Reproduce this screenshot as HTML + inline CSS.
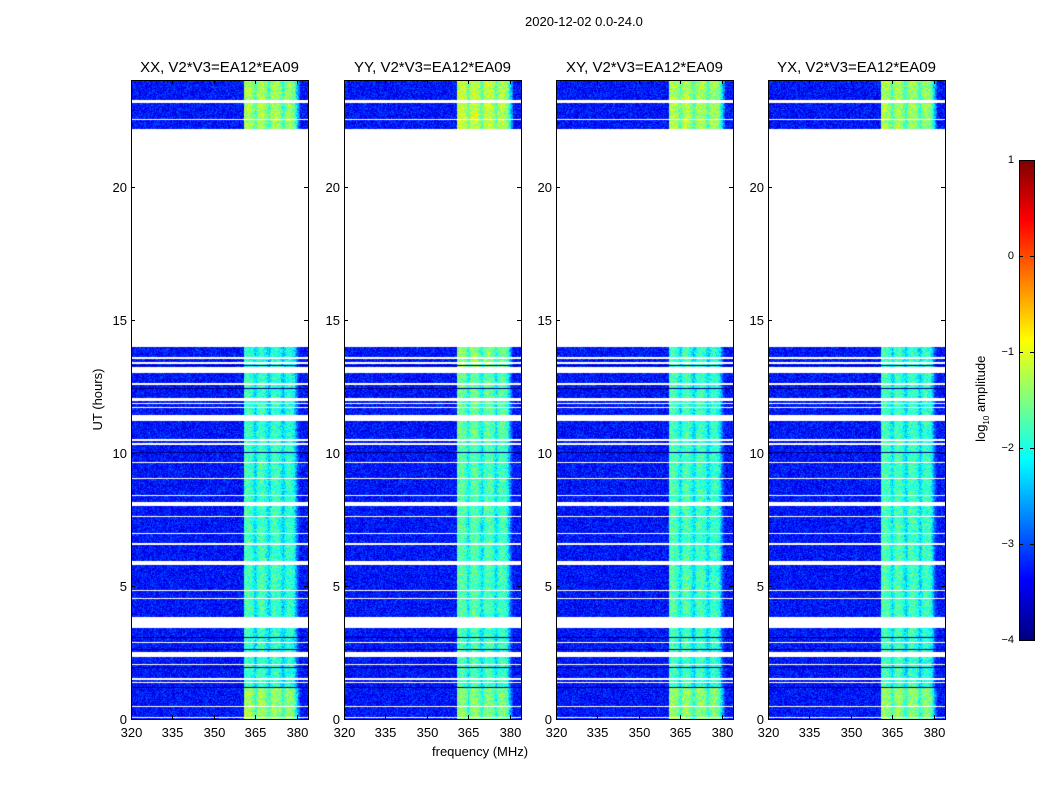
<!DOCTYPE html>
<html><head><meta charset="utf-8">
<style>
body{margin:0;background:#fff;}
#root{position:relative;width:1050px;height:800px;background:#fff;font-family:"Liberation Sans","DejaVu Sans",sans-serif;overflow:hidden;}
.t{position:absolute;white-space:nowrap;color:#000;z-index:3;}
canvas{position:absolute;z-index:1;}
svg{position:absolute;left:0;top:0;z-index:2;}
</style></head>
<body>
<div id="root">
<div class="t" style="left:525px;top:14px;font-size:13px;">2020-12-02 0.0-24.0</div>
<div class="t" style="left:50px;top:392px;font-size:13px;transform:rotate(-90deg);width:95px;text-align:center;">UT (hours)</div>
<div class="t" style="left:432px;top:744px;font-size:13px;">frequency (MHz)</div>
<div class="t" style="left:922px;top:390px;font-size:13px;transform:rotate(-90deg);width:120px;text-align:center;">log<sub style="font-size:8px">10</sub> amplitude</div>
<svg id="svg" width="1050" height="800"></svg>
</div>
<script>
const panelTitles=["XX, V2*V3=EA12*EA09","YY, V2*V3=EA12*EA09","XY, V2*V3=EA12*EA09","YX, V2*V3=EA12*EA09"];
const panelLefts=[131,344,556,768];
const xTicks=[320,335,350,365,380];
const yTicks=[0,5,10,15,20];
const cbTicks=[1,0,-1,-2,-3,-4];
// data coverage blocks (hours)
const dataBlocks=[[0,13.97],[22.15,24]];
// white gaps (hours)
const gapStarts=[23.14,22.50,13.52,13.34,13.0,12.55,11.95,11.83,11.68,11.19,10.44,10.29,9.62,9.02,8.38,8.0,7.59,6.95,6.54,5.79,4.81,4.51,3.42,2.85,2.33,2.03,1.47,1.35,0.45,0.02];
const gapEnds  =[23.25,22.54,13.60,13.41,13.22,12.62,12.06,11.87,11.72,11.42,10.52,10.37,9.65,9.05,8.41,8.15,7.63,6.99,6.61,5.94,4.85,4.55,3.83,2.89,2.52,2.07,1.54,1.39,0.49,0.07];
const darkLines=[22.17,13.28,12.45,10.01,3.08,2.62,1.95,1.2];
// band brightness (log10 amp) by time segment
const segStarts=[0,1.2,3.8,10.5,13.0,22.15];
const segLevels=[[-1.5,-1.6,-1.55,-1.55],[-2.0,-1.9,-1.95,-1.95],[-1.95,-1.85,-1.9,-1.9],[-2.0,-1.75,-1.95,-1.95],[-2.05,-1.6,-1.95,-1.95],[-1.45,-1.3,-1.4,-1.45]];
// spectral profile offsets for 361..381 MHz
const profFreqs=[361,362,363,364,365,366,367,368,369,370,371,372,373,374,375,376,377,378,379,380,381];
const profVals=[0.1,0.2,0.15,0.05,-0.35,0.1,0.2,0.15,-0.1,-0.4,0.1,0.15,0.1,0.0,-0.45,0.0,0.1,0.05,-0.1,-0.8,-1.5];
const bgLevel=-3.3;

const W=177,H=639,top0=80,f0=320,f1=384,t0=0,t1=24;
const xs=(f,L)=>L+(f-f0)/(f1-f0)*W;
const ys=t=>top0+H-(t-t0)/(t1-t0)*H;
function jet(v){
  const r=Math.min(Math.max(Math.min(4*v-1.5,-4*v+4.5),0),1);
  const g=Math.min(Math.max(Math.min(4*v-0.5,-4*v+3.5),0),1);
  const b=Math.min(Math.max(Math.min(4*v+0.5,-4*v+2.5),0),1);
  return [r*255|0,g*255|0,b*255|0];
}
function hash(a,b,c){let h=(a*374761393+b*668265263+c*2147483647)|0;h=(h^(h>>>13))*1274126177|0;h=h^(h>>>16);return ((h>>>0)%10000)/10000;}
function prof(f){if(f<profFreqs[0])return null;for(let i=0;i<profFreqs.length-1;i++){if(f<profFreqs[i+1]){const a=(f-profFreqs[i]);return profVals[i]*(1-a)+profVals[i+1]*a;}}return null;}
function level(t,p){let k=0;for(let i=0;i<segStarts.length;i++)if(t>=segStarts[i])k=i;return segLevels[k][p];}
const root=document.getElementById('root');
const svg=document.getElementById('svg');
const NS='http://www.w3.org/2000/svg';
function line(x1,y1,x2,y2,name){const l=document.createElementNS(NS,'line');l.setAttribute('x1',x1);l.setAttribute('y1',y1);l.setAttribute('x2',x2);l.setAttribute('y2',y2);l.setAttribute('stroke','#000');l.setAttribute('stroke-width','1');


svg.appendChild(l);}
function text(x,y,s,anchor,size,name){const d=document.createElement('div');d.className='t';d.textContent=s;d.style.fontSize=size+'px';d.style.top=(y-size*0.6)+'px';d.style.left=x+'px';
if(anchor==='c'){d.style.transform='translateX(-50%)';}else if(anchor==='r'){d.style.transform='translateX(-100%)';}


root.appendChild(d);}
panelLefts.forEach((L,p)=>{
  const c=document.createElement('canvas');c.width=W;c.height=H;c.style.left=L+'px';c.style.top=top0+'px';
  
  
  root.appendChild(c);
  const ctx=c.getContext('2d');const img=ctx.createImageData(W,H);
  for(let y=0;y<H;y++){
    const t=t1-(y+0.5)/H*(t1-t0);
    let inData=dataBlocks.some(b=>t>=b[0]&&t<=b[1]);
    for(let g=0;g<gapStarts.length;g++)if(t>=gapStarts[g]&&t<=gapEnds[g])inData=false;
    let dark=darkLines.some(d=>Math.abs(ys(d)-top0-y)<0.5);
    const lv=level(t,p);
    for(let x=0;x<W;x++){
      const i=(y*W+x)*4;
      if(!inData){img.data[i]=img.data[i+1]=img.data[i+2]=255;img.data[i+3]=255;continue;}
      const f=f0+(x+0.5)/W*(f1-f0);
      let v=bgLevel+(hash(x,y,p)-0.5)*0.75;
      const pr=prof(f);
      if(pr!==null){const bv=lv+pr+(hash(x,y,p+7)-0.5)*0.8;v=Math.max(v,bv);}
      if(dark)v=-4.2;
      const col=jet(Math.min(Math.max((v+4)/5,0),1));
      img.data[i]=col[0];img.data[i+1]=col[1];img.data[i+2]=col[2];img.data[i+3]=255;
    }
  }
  ctx.putImageData(img,0,0);
  const r=document.createElementNS(NS,'rect');r.setAttribute('x',L+0.5);r.setAttribute('y',top0+0.5);r.setAttribute('width',W);r.setAttribute('height',H);r.setAttribute('fill','none');r.setAttribute('stroke','#000');
  
  
  svg.appendChild(r);
  xTicks.forEach(v=>{const x=Math.round(xs(v,L))+0.5;line(x,top0+H,x,top0+H-4,'x-tick');line(x,top0,x,top0+4,'x-tick');text(x,top0+H+14,String(v),'c',13,'x-tick-label');});
  yTicks.forEach(v=>{const y=Math.round(ys(v))+0.5;line(L,y,L+4,y,'y-tick');line(L+W,y,L+W-4,y,'y-tick');text(L-4,y,String(v),'r',13,'y-tick-label');});
  text(L+W/2,top0-12,panelTitles[p],'c',15,'panel-title');
});
// colorbar
const cb=document.createElement('canvas');cb.width=15;cb.height=480;cb.style.left='1019px';cb.style.top='160px';


root.appendChild(cb);
const cctx=cb.getContext('2d');
for(let y=0;y<480;y++){const col=jet(1-y/479);cctx.fillStyle=`rgb(${col[0]},${col[1]},${col[2]})`;cctx.fillRect(0,y,15,1);}
const cr=document.createElementNS(NS,'rect');cr.setAttribute('x',1019.5);cr.setAttribute('y',160.5);cr.setAttribute('width',15);cr.setAttribute('height',480);cr.setAttribute('fill','none');cr.setAttribute('stroke','#000');


svg.appendChild(cr);
cbTicks.forEach(v=>{const y=Math.round(160+(1-v)/5*480)+0.5;line(1019,y,1023,y,'colorbar-tick');line(1034,y,1030,y,'colorbar-tick');text(1014,y,v<0?'\u2212'+(-v):String(v),'r',11,'colorbar-tick-label');});
</script>
</body></html>
